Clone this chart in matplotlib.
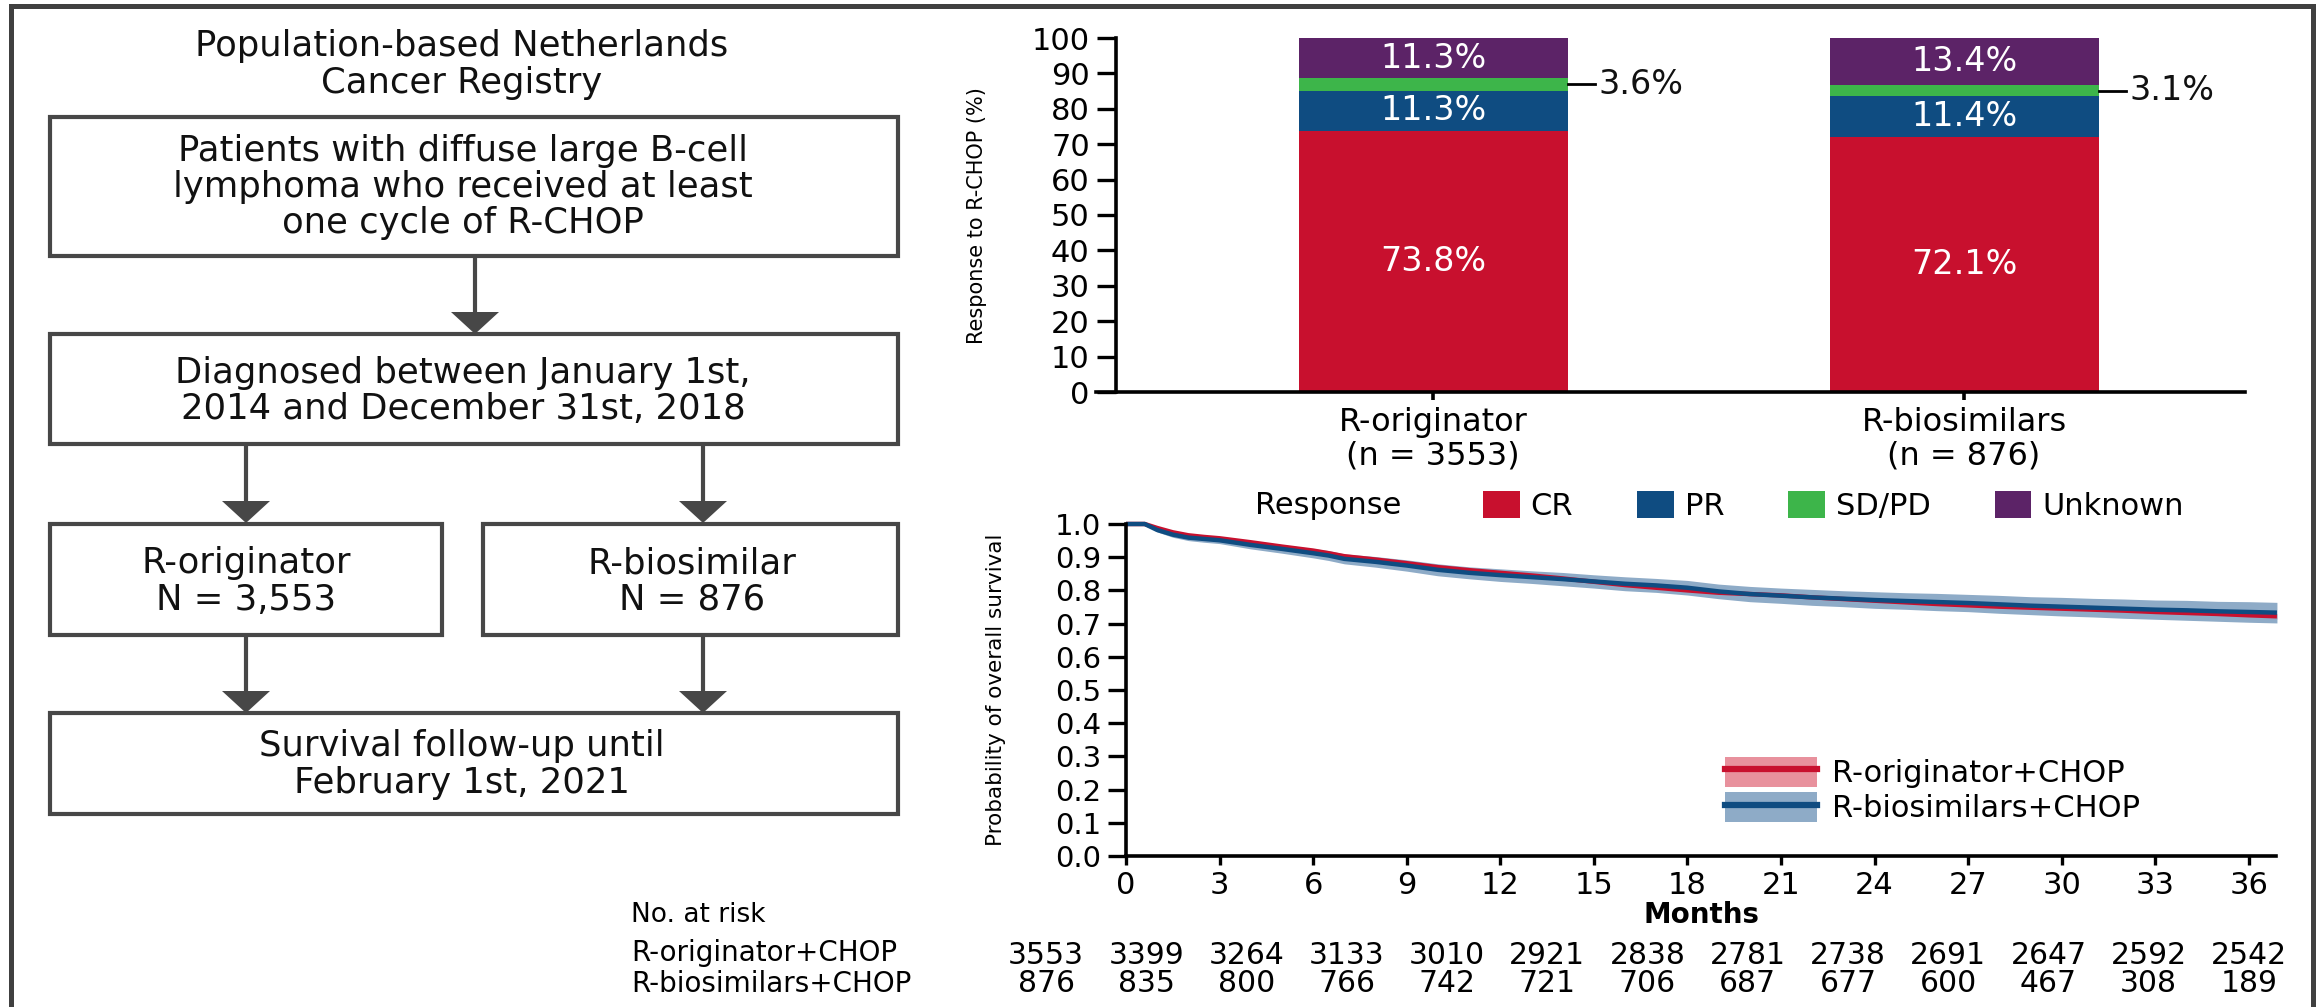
import numpy as np
import matplotlib
matplotlib.use('Agg')
import matplotlib.pyplot as plt
from matplotlib.patches import Patch, Rectangle, Polygon
from matplotlib.lines import Line2D
from matplotlib.transforms import blended_transform_factory

plt.rcParams['font.family'] = ['DejaVu Sans']

W, H = 2321, 1007
DPI = 100

# ---------------- data ----------------
groups = ['R-originator\n(n = 3553)', 'R-biosimilars\n(n = 876)']
responses = ['CR', 'PR', 'SD/PD', 'Unknown']
cr = [73.8, 72.1]
pr = [11.3, 11.4]
sdpd = [3.6, 3.1]
unknown = [11.3, 13.4]
resp_colors = ['#C8102E', '#0F4C81', '#3DB54A', '#5C2367']

km_t = [0, 0.6, 1, 1.5, 2, 2.5, 3, 4, 5, 6,
        6.5, 7, 8, 9, 10, 11, 12, 13, 14, 15,
        16, 17, 18, 19, 20, 21, 22, 23, 24, 25,
        26, 27, 28, 29, 30, 31, 32, 33, 34, 35,
        36, 36.9]
orig_s = [1.000, 1.000, 0.988, 0.975, 0.966, 0.961, 0.957, 0.945, 0.932, 0.920,
          0.912, 0.903, 0.893, 0.882, 0.870, 0.861, 0.853, 0.845, 0.836, 0.826,
          0.816, 0.808, 0.800, 0.793, 0.789, 0.785, 0.779, 0.774, 0.769, 0.764,
          0.759, 0.755, 0.751, 0.748, 0.745, 0.742, 0.739, 0.735, 0.732, 0.729,
          0.725, 0.722]
orig_ci = [0.000, 0.000, 0.002, 0.003, 0.003, 0.003, 0.004, 0.004, 0.004, 0.005,
           0.005, 0.005, 0.005, 0.005, 0.006, 0.006, 0.006, 0.006, 0.006, 0.006,
           0.007, 0.007, 0.007, 0.007, 0.007, 0.007, 0.007, 0.007, 0.007, 0.007,
           0.008, 0.008, 0.008, 0.008, 0.008, 0.008, 0.008, 0.008, 0.008, 0.008,
           0.008, 0.008]
bios_s = [1.000, 1.000, 0.982, 0.968, 0.959, 0.955, 0.951, 0.937, 0.925, 0.912,
          0.905, 0.895, 0.886, 0.875, 0.862, 0.853, 0.846, 0.840, 0.834, 0.827,
          0.820, 0.815, 0.808, 0.797, 0.789, 0.784, 0.779, 0.775, 0.771, 0.768,
          0.765, 0.762, 0.758, 0.754, 0.751, 0.748, 0.745, 0.742, 0.740, 0.737,
          0.735, 0.733]
bios_ci = [0.000, 0.000, 0.006, 0.008, 0.009, 0.010, 0.010, 0.012, 0.013, 0.014,
           0.015, 0.015, 0.016, 0.017, 0.018, 0.018, 0.019, 0.019, 0.020, 0.020,
           0.021, 0.021, 0.022, 0.022, 0.023, 0.023, 0.024, 0.024, 0.025, 0.025,
           0.026, 0.026, 0.027, 0.027, 0.028, 0.028, 0.029, 0.029, 0.030, 0.030,
           0.031, 0.031]
km_labels = ['R-originator+CHOP', 'R-biosimilars+CHOP']
km_xticks = list(range(0, 37, 3))
km_yticks = [0.0, 0.1, 0.2, 0.3, 0.4, 0.5, 0.6, 0.7, 0.8, 0.9, 1.0]
risk_orig = [3553, 3399, 3264, 3133, 3010, 2921, 2838, 2781, 2738, 2691, 2647, 2592, 2542]
risk_bios = [876, 835, 800, 766, 742, 721, 706, 687, 677, 600, 467, 308, 189]

flow_title = ['Population-based Netherlands', 'Cancer Registry']
box1_text = ['Patients with diffuse large B-cell', 'lymphoma who received at least', 'one cycle of R-CHOP']
box2_text = ['Diagnosed between January 1st,', '2014 and December 31st, 2018']
box3_text = ['R-originator', 'N = 3,553']
box4_text = ['R-biosimilar', 'N = 876']
box5_text = ['Survival follow-up until', 'February 1st, 2021']

# ---------------- styling ----------------
RED, BLUE = '#C8102E', '#0F4C81'
RED_BAND, BLUE_BAND = '#E8919D', '#8EABC7'
GRAY = '#474747'
NARROW = ['Liberation Sans Narrow', 'DejaVu Sans']


def rect(l, t, r, b):
    return [l / W, 1 - b / H, (r - l) / W, (b - t) / H]


fig = plt.figure(figsize=(W / DPI, H / DPI), dpi=DPI)

# ---------------- flowchart (pixel overlay) ----------------
ax0 = fig.add_axes([0, 0, 1, 1])
ax0.set_xlim(0, W)
ax0.set_ylim(H, 0)
ax0.axis('off')

# outer frame
ax0.plot([11, 11, 2313, 2313], [H + 10, 6, 6, H + 10], color='#404040', lw=3.6,
         solid_joinstyle='miter', clip_on=False)

FS = 25.5


def box(l, t, r, b):
    ax0.add_patch(Rectangle((l, t), r - l, b - t, fill=False, ec=GRAY, lw=3))


def arrow(x, y0, y1):
    ax0.plot([x, x], [y0, y1 - 18], color=GRAY, lw=3, solid_capstyle='butt')
    ax0.add_patch(Polygon([[x - 24, y1 - 22], [x + 24, y1 - 22], [x, y1]],
                          closed=True, fc=GRAY, ec='none'))


def lines(cx, baselines, texts):
    for yb, s in zip(baselines, texts):
        ax0.text(cx, yb, s, ha='center', va='baseline', fontsize=FS, color='#111111')


lines(462, [56, 93], flow_title)
box(50, 117, 898, 256)
lines(463, [161, 197, 233], box1_text)
arrow(475, 256, 334)
box(50, 334, 898, 444)
lines(463, [383, 419], box2_text)
arrow(246, 444, 523)
arrow(703, 444, 523)
box(50, 524, 442, 635)
lines(246, [573, 610], box3_text)
box(483, 524, 898, 635)
lines(692, [573, 610], box4_text)
arrow(246, 635, 713)
arrow(703, 635, 713)
box(50, 713, 898, 814)
lines(462, [756, 793], box5_text)

# ---------------- stacked bar chart ----------------
axb = fig.add_axes(rect(1096, 38, 2245, 392))
x = np.arange(len(groups))
bw = 0.507
bottom = np.zeros(len(groups))
for vals, col, name in zip([cr, pr, sdpd, unknown], resp_colors, responses):
    vals = np.asarray(vals)
    axb.bar(x, vals, width=bw, bottom=bottom, color=col, edgecolor='none', label=name)
    for xi, v, b0 in zip(x, vals, bottom):
        if name == 'SD/PD':
            yc = b0 + v / 2
            axb.plot([xi + bw / 2, xi + bw / 2 + 0.052], [yc, yc], color='black', lw=2,
                     clip_on=False)
            axb.text(xi + bw / 2 + 0.058, yc, f'{v:.1f}%', ha='left', va='center',
                     fontsize=24, color='#111111')
        else:
            axb.text(xi, b0 + v / 2, f'{v:.1f}%', ha='center', va='center',
                     fontsize=24, color='white')
    bottom += vals

axb.set_xlim(-0.635, 1.529)
axb.set_ylim(0, 100)
axb.spines['top'].set_visible(False)
axb.spines['right'].set_visible(False)
axb.spines['left'].set_position(('data', -0.597))
for sp in ['left', 'bottom']:
    axb.spines[sp].set_linewidth(2.6)
axb.set_yticks(range(0, 101, 10))
axb.set_xticks(x)
axb.set_xticklabels(groups, fontsize=23, linespacing=1.1)
axb.tick_params(axis='y', direction='out', length=14, width=2.4, labelsize=22, pad=5)
axb.tick_params(axis='x', direction='out', length=6, width=2.6, pad=5)
fig.text(977 / W, 1 - 216 / H, 'Response to R-CHOP (%)', rotation=90, ha='center',
         va='center', fontsize=15, family=NARROW)

# response legend
fig.text(1255 / W, 1 - 506 / H, 'Response', ha='left', va='center', fontsize=22)
fig.legend(handles=[Patch(fc=c, ec='none') for c in resp_colors], labels=responses,
           loc='center left', bbox_to_anchor=(1483 / W, 1 - 506 / H), ncol=4,
           frameon=False, fontsize=22, handlelength=1.2, handleheight=0.95,
           handletextpad=0.35, columnspacing=2.1, borderpad=0, borderaxespad=0)

# ---------------- Kaplan-Meier ----------------
axk = fig.add_axes(rect(1126, 524, 2276, 856))
t = np.asarray(km_t)
for s, ci, band in [(orig_s, orig_ci, RED_BAND), (bios_s, bios_ci, BLUE_BAND)]:
    s = np.asarray(s)
    ci = np.asarray(ci)
    axk.fill_between(t, s - ci, np.minimum(s + ci, 1.0), color=band, lw=0, clip_on=False)
axk.plot(t, orig_s, color=RED, lw=3.2, clip_on=False, solid_capstyle='butt')
axk.plot(t, bios_s, color=BLUE, lw=3.2, clip_on=False, solid_capstyle='butt')

axk.set_xlim(0, 36.87)
axk.set_ylim(0, 1.0)
axk.spines['top'].set_visible(False)
axk.spines['right'].set_visible(False)
for sp in ['left', 'bottom']:
    axk.spines[sp].set_linewidth(2.6)
axk.set_xticks(km_xticks)
axk.set_yticks(km_yticks)
axk.set_yticklabels([f'{v:.1f}' for v in km_yticks])
axk.tick_params(axis='y', direction='out', length=13, width=2.4, labelsize=21, pad=5)
axk.tick_params(axis='x', direction='out', length=6.5, width=2.4, labelsize=22, pad=4)
axk.set_xlabel('Months', fontsize=20, fontweight='bold', family=NARROW)
axk.xaxis.set_label_coords(0.5, -0.135)
fig.text(996 / W, 1 - 690 / H, 'Probability of overall survival', rotation=90,
         ha='center', va='center', fontsize=15.5, family=NARROW)

km_handles = [(Patch(fc=RED_BAND, ec='none'), Line2D([], [], color=RED, lw=4.5)),
              (Patch(fc=BLUE_BAND, ec='none'), Line2D([], [], color=BLUE, lw=4.5))]
fig.legend(handles=km_handles, labels=km_labels, loc='center left',
           bbox_to_anchor=(1725 / W, 1 - 790 / H), frameon=False, fontsize=22,
           handlelength=3.0, handleheight=1.15, handletextpad=0.5, labelspacing=0.12,
           borderpad=0, borderaxespad=0)

# number at risk table
risk_x = np.linspace(-2.56, 36.0, len(risk_orig))
tr = blended_transform_factory(axk.transData, fig.transFigure)
fig.text(631 / W, 1 - 915 / H, 'No. at risk', ha='left', va='center', fontsize=19)
fig.text(631 / W, 1 - 953 / H, km_labels[0], ha='left', va='center', fontsize=20)
fig.text(631 / W, 1 - 984 / H, km_labels[1], ha='left', va='center', fontsize=20)
for xi, a, b in zip(risk_x, risk_orig, risk_bios):
    axk.text(xi, 1 - 955 / H, str(a), transform=tr, ha='center', va='center',
             fontsize=21.5, clip_on=False)
    axk.text(xi, 1 - 984 / H, str(b), transform=tr, ha='center', va='center',
             fontsize=21.5, clip_on=False)

fig.savefig('out.png', dpi=DPI)
